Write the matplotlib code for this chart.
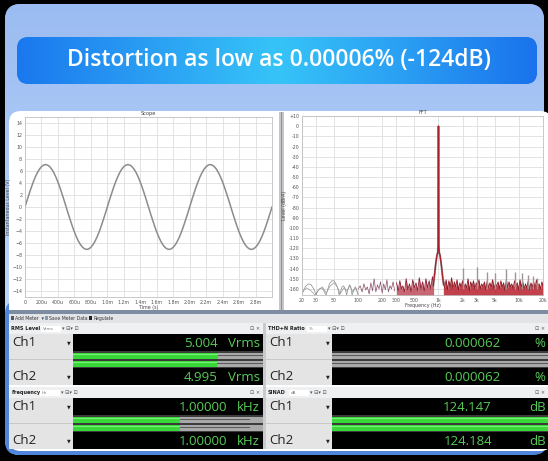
import matplotlib.pyplot as plt
import numpy as np
from matplotlib.patches import FancyBboxPatch, Rectangle
from matplotlib.colors import LinearSegmentedColormap

W, H = 548, 461

title_text = "Distortion as low as 0.00006% (-124dB)"

# scope trace (V), one sample every 25 us
scope_step = 25e-6
scope_volts = [
    0, 1.11, 2.18, 3.21, 4.16, 5.00, 5.72, 6.30, 6.72, 6.98, 7.07, 6.98, 6.72, 6.30, 5.72, 5.00, 4.16, 3.21, 2.18, 1.11,
    0, -1.11, -2.18, -3.21, -4.16, -5.00, -5.72, -6.30, -6.72, -6.98, -7.07, -6.98, -6.72, -6.30, -5.72, -5.00, -4.16, -3.21, -2.18, -1.11,
    0, 1.11, 2.18, 3.21, 4.16, 5.00, 5.72, 6.30, 6.72, 6.98, 7.07, 6.98, 6.72, 6.30, 5.72, 5.00, 4.16, 3.21, 2.18, 1.11,
    0, -1.11, -2.18, -3.21, -4.16, -5.00, -5.72, -6.30, -6.72, -6.98, -7.07, -6.98, -6.72, -6.30, -5.72, -5.00, -4.16, -3.21, -2.18, -1.11,
    0, 1.11, 2.18, 3.21, 4.16, 5.00, 5.72, 6.30, 6.72, 6.98, 7.07, 6.98, 6.72, 6.30, 5.72, 5.00, 4.16, 3.21, 2.18, 1.11,
    0, -1.11, -2.18, -3.21, -4.16, -5.00, -5.72, -6.30, -6.72, -6.98, -7.07, -6.98, -6.72, -6.30, -5.72, -5.00, -4.16, -3.21, -2.18, -1.11,
    0,
]
scope_xticks = [0, 200e-6, 400e-6, 600e-6, 800e-6, 1.0e-3, 1.2e-3, 1.4e-3, 1.6e-3, 1.8e-3, 2.0e-3, 2.2e-3, 2.4e-3, 2.6e-3, 2.8e-3]
scope_xlabels = ["0", "200u", "400u", "600u", "800u", "1.0m", "1.2m", "1.4m", "1.6m", "1.8m", "2.0m", "2.2m", "2.4m", "2.6m", "2.8m"]
scope_yticks = [-14, -12, -10, -8, -6, -4, -2, 0, 2, 4, 6, 8, 10, 12, 14]

# FFT traces (Hz, dBrA)
fund_f = [860, 885, 905, 925, 945, 962, 976, 990, 997, 1000, 1003, 1010, 1024, 1040, 1058, 1080, 1105, 1130, 1160]
fund_db = [-157, -149, -142, -135, -130, -126, -125, -118, -60, 0, -60, -118, -125, -126, -130, -135, -142, -149, -156]

noise_f = [
    300, 315, 330, 345, 360, 378, 396, 415, 435, 456,
    478, 500, 525, 550, 577, 605, 634, 665, 697, 730,
    765, 800, 840, 870,
]
noise_db = [
    -154, -162, -152, -160, -157, -163, -150, -161, -155, -163,
    -151, -159, -154, -162, -149, -160, -153, -162, -150, -159,
    -152, -160, -148, -156,
]
noise_hi_f = [
    1150, 1196, 1244, 1294, 1345, 1399, 1455, 1513, 1574, 1637,
    1702, 1770, 1841, 1915, 1991, 2071, 2154, 2240, 2330, 2423,
    2520, 2620, 2725, 2834, 2948, 3066, 3188, 3316, 3448, 3586,
    3730, 3879, 4034, 4195, 4363, 4538, 4719, 4908, 5104, 5308,
    5521, 5742, 5971, 6210, 6459, 6717, 6986, 7265, 7556, 7858,
    8172, 8499, 8839, 9193, 9560, 9943, 10340, 10754, 11184, 11632,
    12097, 12581, 13084, 13607, 14152, 14718, 15306, 15919, 16555, 17218,
    17906, 18623, 19368, 20000,
]
noise_hi_db = [
    -150, -159, -151, -161, -152, -158, -149, -160, -153, -158,
    -151, -161, -154, -158, -152, -160, -155, -159, -150, -162,
    -153, -158, -152, -160, -154, -157, -151, -160, -155, -158,
    -153, -161, -152, -159, -154, -158, -151, -160, -155, -157,
    -153, -160, -152, -158, -154, -162, -151, -159, -153, -158,
    -155, -160, -152, -157, -154, -161, -151, -158, -153, -160,
    -155, -159, -152, -161, -154, -158, -153, -160, -151, -157,
    -155, -160, -153, -157,
]
low_f = [100, 106, 112, 118, 124, 130, 137, 144, 151, 158, 166, 174, 182, 190, 199, 208, 218, 228, 238, 249, 260, 272, 285]
low_db = [-160, -157, -163, -155, -161, -158, -165, -154, -162, -150, -163, -156, -160, -153, -164, -155, -161, -151, -163, -157, -160, -153, -162]

gray_f = [20, 21, 22, 24, 26, 28, 30, 31, 33, 35, 37, 39, 40, 42, 44, 47, 50, 53, 56, 58,
          60, 63, 66, 69, 72, 75, 78, 81, 84, 88, 92, 96, 100]
gray_db = [-166, -161, -158, -155, -156, -160, -166, -163, -160, -159, -161, -165, -166, -160, -155, -152, -152, -155, -160, -166,
           -163, -158, -157, -160, -166, -160, -156, -158, -166, -161, -158, -162, -166]
gray2_f = [20, 23, 26, 29, 32, 36, 40, 45, 50, 55, 60, 66, 72, 79, 86, 94, 100]
gray2_db = [-163, -159, -162, -166, -161, -158, -164, -157, -154, -158, -165, -159, -162, -157, -163, -159, -165]

harm_f = [2000, 3000, 4000, 5000, 7000, 9000, 11000, 13000, 15000, 17000]
harm_db = [-139, -138, -143, -144, -140, -143, -144, -146, -147, -149]

fft_xticks = [20, 30, 50, 100, 200, 300, 500, 1000, 2000, 3000, 5000, 10000, 20000]
fft_xlabels = ["20", "30", "50", "100", "200", "300", "500", "1k", "2k", "3k", "5k", "10k", "20k"]
fft_yticks = [10, 0, -10, -20, -30, -40, -50, -60, -70, -80, -90, -100, -110, -120, -130, -140, -150, -160]
fft_ylabels = ["+10"] + [str(v) for v in fft_yticks[1:]]

# meter readings
rms_values = [5.004, 4.995]
thdn_values = [0.000062, 0.000062]
freq_values = [1.00000, 1.00000]
sinad_values = [124.147, 124.184]

GREEN_TXT = "#58cc58"
GREEN_BAR = "#39d839"


def px(x0, y0, x1, y1):
    return [x0 / W, 1 - y1 / H, (x1 - x0) / W, (y1 - y0) / H]


def box(ax, x0, y0, x1, y1, color, z=1, **kw):
    ax.add_patch(Rectangle((x0, y0), x1 - x0, y1 - y0, facecolor=color, edgecolor="none", zorder=z, **kw))


def rounded(ax, x0, y0, x1, y1, r, color, z=1, ec="none", lw=0):
    p = FancyBboxPatch((x0, y0), x1 - x0, y1 - y0, boxstyle=f"round,pad=0,rounding_size={r}",
                       facecolor=color, edgecolor=ec, linewidth=lw, zorder=z)
    ax.add_patch(p)
    return p


def gradient(ax, patch, x0, y0, x1, y1, colors, horizontal=False, z=1):
    cmap = LinearSegmentedColormap.from_list("g", colors)
    g = np.linspace(0, 1, 256)
    arr = g[None, :] if horizontal else g[:, None]
    im = ax.imshow(arr, extent=[x0, x1, y1, y0], cmap=cmap, aspect="auto", zorder=z, interpolation="bilinear")
    im.set_clip_path(patch)


fig = plt.figure(figsize=(W / 100, H / 100), dpi=100, facecolor="black")
bg = fig.add_axes([0, 0, 1, 1])
bg.set_axis_off()

# light blue card
card = rounded(bg, 5, 4, 544, 455, 16, "#aac8f5", z=0)
gradient(bg, card, 5, 4, 544, 455, ["#9bbcf2", "#b4cff8", "#cfe2fb"], z=0.5)

# title banner
banner = rounded(bg, 17, 37, 537, 84, 12, "#1f82ef", z=1)
gradient(bg, banner, 17, 37, 537, 84, ["#1a78ee", "#2a9ef3", "#36c4f8", "#2a9ef3", "#1a72ec"], horizontal=True, z=1.2)
bg.text(279, 60.5, title_text, color="white", fontsize=16.5, family="Open Sans", weight="semibold",
        ha="center", va="center", zorder=2)

# window frame and content
rounded(bg, 5, 300, 547, 455, 14, "#4f86dc", z=1)
rounded(bg, 9, 111, 552, 451, 12, "white", z=1.5)
box(bg, 279, 112, 284, 311, "#c4c6ca", z=1.6)
box(bg, 281, 112, 282, 311, "#8e9096", z=1.7)
box(bg, 9, 310, 548, 313.5, "#7d8ba3", z=1.6)

# toolbar
box(bg, 9, 313.5, 548, 323, "#e2e4e8", z=1.6)
box(bg, 11, 315.5, 14, 319.5, "#556", z=1.7)
bg.text(15, 318.5, "Add Meter  \u25be", fontsize=3.3, color="#333", va="center", zorder=2)
box(bg, 45, 315.5, 48, 319.5, "#89a", z=1.7)
bg.text(49, 318.5, "Save Meter Data", fontsize=3.3, color="#333", va="center", zorder=2)
box(bg, 89, 315.5, 92, 319.5, "#222", z=1.7)
bg.text(93.5, 318.5, "Regulate", fontsize=3.3, color="#333", va="center", zorder=2)


def draw_meter(x0, lbl_x1, x1, y0, name, bx, unit_box, texts, unit, frac, num_right, unit_right, bar_mode):
    # header
    box(bg, x0, y0, x1, y0 + 11, "#eef0f2", z=1.7)
    bg.text(x0 + 2, y0 + 5.5, name, fontsize=3.6, weight="bold", color="#222", va="center", zorder=2)
    box(bg, bx, y0 + 2.5, bx + 20, y0 + 8.5, "white", z=1.8)
    bg.text(bx + 1.5, y0 + 5.5, unit_box, fontsize=3, color="#777", va="center", zorder=2)
    bg.text(bx + 21, y0 + 5.5, "\u25be \u229f\u25be \u22a1", fontsize=3.6, color="#555", va="center", zorder=2)
    bg.text(x1 - 3, y0 + 5.5, "\u22a1 \u00d7", fontsize=3.6, color="#555", va="center", ha="right", zorder=2)

    # label column
    box(bg, x0, y0 + 11, lbl_x1, y0 + 62, "#e4e4e4", z=1.7)
    box(bg, x0, y0 + 36, lbl_x1, y0 + 37, "#c8c8c8", z=1.8)
    rows = [(y0 + 11, y0 + 28), (y0 + 45, y0 + 62)]
    for i, (ya, yb) in enumerate(rows):
        yc = ya + 8.5 if i == 0 else yb - 8.5
        bg.text(x0 + 3, yc, f"Ch{i + 1}", fontsize=9.5, color="#222", family="Open Sans", va="center", zorder=2)
        bg.text(lbl_x1 - 2, yc + 0.5, "\u25bc", fontsize=3.5, color="#222", va="center", ha="right", zorder=2)
        box(bg, lbl_x1, ya, x1, yb, "black", z=1.8)
        bg.text(num_right, (ya + yb) / 2 + 0.5, texts[i], fontsize=9.5, color=GREEN_TXT, family="Open Sans",
                ha="right", va="center", zorder=2)
        bg.text(unit_right, (ya + yb) / 2 + 0.5, unit, fontsize=9.5, color=GREEN_TXT, family="Open Sans",
                ha="right", va="center", zorder=2)

    # bars
    box(bg, lbl_x1, y0 + 28, x1, y0 + 45, "#3c3c3c", z=1.8)
    w = x1 - lbl_x1
    for i, f in enumerate(frac):
        ya = y0 + 29.5 + i * 8
        box(bg, lbl_x1, ya, x1, ya + 6, "#a9a9a9", z=1.9)
        box(bg, lbl_x1, ya + 2.5, x1 if bar_mode != "short" else lbl_x1 + 0.93 * w, ya + 3.5, "#5a5a5a", z=1.95)
        if f > 0:
            box(bg, lbl_x1, ya, lbl_x1 + f * w, ya + 6, GREEN_BAR, z=2)
            box(bg, lbl_x1, ya + 1, lbl_x1 + f * w, ya + 2, "#7cf07c", z=2.05)


rms_full = 6.57
freq_full = 1.77
sinad_full = 120.0
draw_meter(9, 73, 263, 323, "RMS Level", 41, "Vrms", [f"{v:.3f}" for v in rms_values], "Vrms",
           [v / rms_full for v in rms_values], 218, 260, "full")
draw_meter(266, 332, 548, 323, "THD+N Ratio", 307, "%", [f"{v:.6f}" for v in thdn_values], "%",
           [0 for v in thdn_values], 501, 545, "full")
draw_meter(9, 73, 263, 387, "Frequency", 40, "Hz", [f"{v:.5f}" for v in freq_values], "kHz",
           [v / freq_full for v in freq_values], 227, 260, "short")
draw_meter(266, 332, 548, 387, "SINAD", 289, "dB", [f"{v:.3f}" for v in sinad_values], "dB",
           [min(1, v / sinad_full) for v in sinad_values], 492, 546, "full")
box(bg, 263, 323, 266, 449, "#c8cace", z=1.7)

bg.set_xlim(0, W)
bg.set_ylim(H, 0)

# scope plot
ax1 = fig.add_axes(px(25, 117, 272, 297))
t = np.arange(len(scope_volts)) * scope_step
ax1.plot(t, scope_volts, color="#8c8c8c", lw=1.1)
ax1.set_xlim(0, 3.0e-3)
ax1.set_ylim(-15, 15)
ax1.set_xticks(scope_xticks, scope_xlabels)
ax1.set_yticks(scope_yticks)

# fft plot
ax2 = fig.add_axes(px(302, 116, 543, 295))
ax2.set_xscale("log")
ax2.fill_between(noise_hi_f, noise_hi_db, -170, color="#b81f2c", alpha=0.85, lw=0)
ax2.plot(noise_hi_f, noise_hi_db, color="#8e1824", lw=0.6)
ax2.fill_between(noise_f, noise_db, -170, color="#b02838", alpha=0.7, lw=0)
ax2.plot(noise_f, noise_db, color="#8e2038", lw=0.6)
ax2.plot(low_f, low_db, color="#8a4a6a", lw=0.5)
ax2.plot(gray_f, gray_db, color="#8a8a8a", lw=0.5)
ax2.plot(gray2_f, gray2_db, color="#9a9a9a", lw=0.5)
ax2.vlines(harm_f, -160, harm_db, color="#a09494", lw=1.0)
ax2.plot(fund_f, fund_db, color="#909090", lw=1.4)
ax2.plot(fund_f, fund_db, color="#a8202c", lw=0.9)
ax2.set_xlim(20, 20000)
ax2.set_ylim(-166, 10)
ax2.set_xticks(fft_xticks, fft_xlabels)
ax2.minorticks_off()
ax2.set_yticks(fft_yticks, fft_ylabels)

for ax, title, xl, yl in [(ax1, "Scope", "Time (s)", "Instantaneous Level (V)"),
                          (ax2, "FFT", "Frequency (Hz)", "Level (dBrA)")]:
    ax.set_facecolor("white")
    ax.grid(True, color="#dedede", lw=0.6)
    ax.set_axisbelow(True)
    ax.tick_params(labelsize=3.4, length=0, pad=2, colors="#555555")
    for s in ax.spines.values():
        s.set_color("#c0c0c0")
        s.set_linewidth(0.6)
    ax.set_title(title, fontsize=3.6, color="#444", pad=1.5)
    ax.set_xlabel(xl, fontsize=3.4, color="#444", labelpad=0.5)
    ax.set_ylabel(yl, fontsize=3.4, color="#444", labelpad=1)

fig.savefig("out.png", dpi=100, facecolor="black")
